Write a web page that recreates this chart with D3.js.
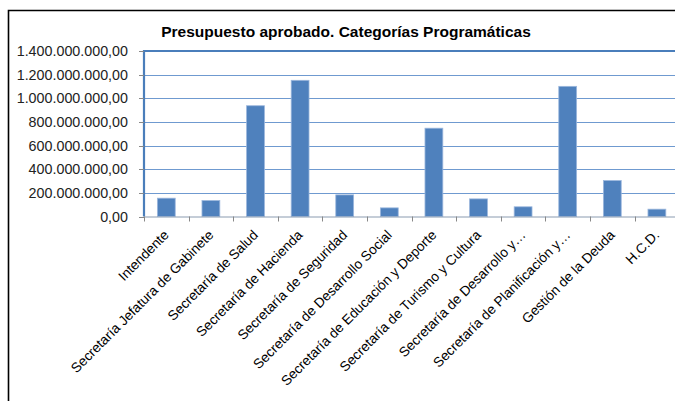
<!DOCTYPE html>
<html><head><meta charset="utf-8">
<script src="https://cdn.jsdelivr.net/npm/d3@7"></script>
<style>
body{margin:0;background:#fff;}
svg{display:block;}
text{font-family:"Liberation Sans",Arial,sans-serif;}
</style></head>
<body>
<svg id="c" width="675" height="401"></svg>
<script>
const categories = ["Intendente","Secretaría Jefatura de Gabinete","Secretaría de Salud","Secretaría de Hacienda","Secretaría de Seguridad","Secretaría de Desarrollo Social","Secretaría de Educación y Deporte","Secretaría de Turismo y Cultura","Secretaría de Desarrollo y…","Secretaría de Planificación y…","Gestión de la Deuda","H.C.D."];
const values = [155000000,135000000,937000000,1152000000,183000000,73000000,747000000,149000000,82000000,1101000000,304000000,62000000];
const yTicks = [0,200000000,400000000,600000000,800000000,1000000000,1200000000,1400000000];
const title = "Presupuesto aprobado. Categorías Programáticas";

const svg = d3.select("#c");
const L=144, R=679.2, T=51, B=216.5;
const x = d3.scaleBand().domain(categories).range([L,R]).padding(0);
const y = d3.scaleLinear().domain([0,1400000000]).range([B,T]);
const loc = d3.formatLocale({decimal:",",thousands:".",grouping:[3],currency:["",""]});
const fmt = loc.format(",.2f");

// outer chart border
svg.append("path").attr("d","M8.5,401 V10.5 H675").attr("fill","none").attr("stroke","#000").attr("stroke-width",1.6);

// title
svg.append("text").attr("x",346).attr("y",37).attr("text-anchor","middle")
  .attr("font-weight","bold").attr("font-size",15.5).attr("fill","#000").text(title);

// gridlines
svg.append("g").selectAll("line").data(yTicks.filter(d=>d>0 && d<1400000000)).join("line")
  .attr("x1",L).attr("x2",R).attr("y1",d=>Math.round(y(d))+0.5).attr("y2",d=>Math.round(y(d))+0.5)
  .attr("stroke","#6f9ad0").attr("stroke-width",1);

// bars
const bw = x.bandwidth()*0.4;
svg.append("g").selectAll("rect").data(categories).join("rect")
  .attr("x",(d)=>x(d)+(x.bandwidth()-bw)/2)
  .attr("width",bw)
  .attr("y",(d,i)=>y(values[i]))
  .attr("height",(d,i)=>B-y(values[i]))
  .attr("fill","#4f81bd").attr("stroke","#9bb7dd").attr("stroke-width",0.8);

// plot area top/left thick blue border
svg.append("path").attr("d",`M${L},${B} V${T} H675`).attr("fill","none").attr("stroke","#4a7ebb").attr("stroke-width",2.2);

// x axis
const xa = svg.append("g").attr("transform",`translate(0,${B})`);
xa.append("line").attr("x1",L).attr("x2",675).attr("y1",0.5).attr("y2",0.5).attr("stroke","#8a9bb0").attr("stroke-width",1);
xa.selectAll("line.t").data(d3.range(categories.length+1)).join("line").attr("class","t")
  .attr("x1",i=>Math.round(L+i*x.step())+0.5).attr("x2",i=>Math.round(L+i*x.step())+0.5)
  .attr("y1",0).attr("y2",5).attr("stroke","#888");
xa.selectAll("text").data(categories).join("text")
  .attr("transform",d=>`translate(${x(d)+x.bandwidth()/2},${16}) rotate(-45)`)
  .attr("text-anchor","end").attr("dy","0.35em").attr("font-size",13.7).attr("fill","#000").text(d=>d);

// y axis
const ya = svg.append("g");
ya.selectAll("line").data(yTicks).join("line")
  .attr("x1",L-5).attr("x2",L).attr("y1",d=>Math.round(y(d))+0.5).attr("y2",d=>Math.round(y(d))+0.5)
  .attr("stroke","#888");
ya.selectAll("text").data(yTicks).join("text")
  .attr("x",128).attr("y",d=>y(d)).attr("dy","0.35em").attr("text-anchor","end")
  .attr("font-size",14.3).attr("fill","#222").text(d=>fmt(d));
</script>
</body></html>
